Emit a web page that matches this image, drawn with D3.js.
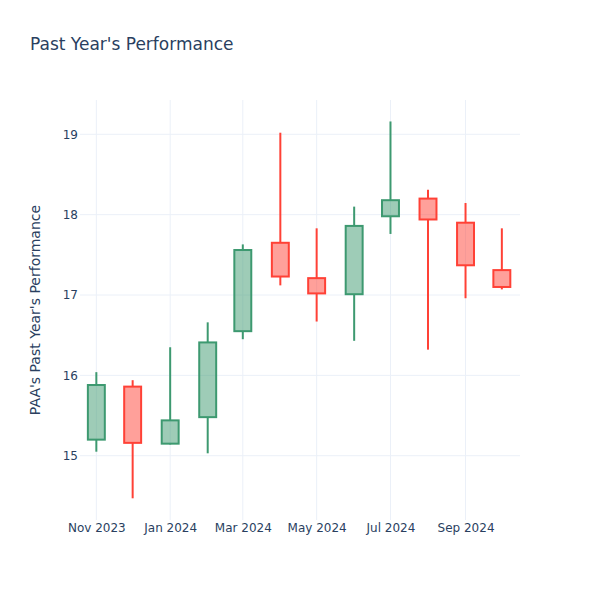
<!DOCTYPE html>
<html><head><meta charset="utf-8">
<script src="https://cdn.jsdelivr.net/npm/d3@7"></script>
<style>body{margin:0;background:#fff;} text{font-family:"DejaVu Sans",Verdana,Arial,sans-serif;}</style>
</head><body><svg id="c" width="600" height="600"></svg>
<script>
const dates = ["2023-11-01","2023-12-01","2024-01-01","2024-02-01","2024-03-01","2024-04-01","2024-05-01","2024-06-01","2024-07-01","2024-08-01","2024-09-01","2024-10-01"];
const opens  = [15.20,15.86,15.15,15.48,16.55,17.65,17.21,17.01,17.98,18.20,17.90,17.31];
const highs  = [16.04,15.94,16.35,16.66,17.63,19.02,17.83,18.10,19.16,18.31,18.145,17.83];
const lows   = [15.05,14.47,15.14,15.03,16.45,17.12,16.67,16.43,17.76,16.32,16.96,17.07];
const closes = [15.88,15.16,15.44,16.41,17.56,17.23,17.02,17.86,18.18,17.94,17.37,17.10];
const yTicks = [15,16,17,18,19];
const xTicks = ["2023-11-01","2024-01-01","2024-03-01","2024-05-01","2024-07-01","2024-09-01"];

const parse = d3.utcParse("%Y-%m-%d");
const data = dates.map((d,i)=>({date:parse(d),o:opens[i],h:highs[i],l:lows[i],c:closes[i]}));
const svg = d3.select("#c");
const m = {l:80,r:80,t:100,b:80}, W=600, H=600;
const day = 864e5;
const x = d3.scaleUtc().domain([new Date(parse(dates[0]).getTime()-13.5*day), new Date(parse(dates[dates.length-1]).getTime()+15*day)]).range([m.l, W-m.r]);
const y = d3.scaleLinear().domain([14.2,19.427]).range([H-m.b, m.t]);
const txt = "#2a3f5f", grid = "#EBF0F8";

// grid
svg.append("g").selectAll("line").data(yTicks).join("line")
  .attr("x1",m.l).attr("x2",W-m.r).attr("y1",d=>y(d)).attr("y2",d=>y(d)).attr("stroke",grid).attr("stroke-width",1);
svg.append("g").selectAll("line").data(xTicks).join("line")
  .attr("y1",m.t).attr("y2",H-m.b).attr("x1",d=>x(parse(d))).attr("x2",d=>x(parse(d))).attr("stroke",grid).attr("stroke-width",1);

// axes
const yAxis = d3.axisLeft(y).tickValues(yTicks).tickFormat(d3.format("d")).tickSize(0).tickPadding(2);
const gy = svg.append("g").attr("transform",`translate(${m.l},0)`).call(yAxis);
gy.select(".domain").remove();
gy.selectAll("text").attr("fill",txt).style("font-size","12px");
const fmt = d3.utcFormat("%b %Y");
const xAxis = d3.axisBottom(x).tickValues(xTicks.map(parse)).tickFormat(fmt).tickSize(0).tickPadding(3);
const gx = svg.append("g").attr("transform",`translate(0,${H-m.b})`).call(xAxis);
gx.select(".domain").remove();
gx.selectAll("text").attr("fill",txt).style("font-size","12px");

// candles
const inc = {line:"#3D9970", fill:"rgba(61,153,112,0.5)"};
const dec = {line:"#FF4136", fill:"rgba(255,65,54,0.5)"};
const halfW = (x(new Date(parse(dates[0]).getTime()+7*day)) - x(parse(dates[0])));
const g = svg.append("g");
data.forEach(d=>{
  const col = d.c>=d.o?inc:dec;
  const cx = x(d.date);
  const top = Math.max(d.o,d.c), bot = Math.min(d.o,d.c);
  g.append("line").attr("x1",cx).attr("x2",cx).attr("y1",y(d.h)).attr("y2",y(top)).attr("stroke",col.line).attr("stroke-width",2);
  g.append("line").attr("x1",cx).attr("x2",cx).attr("y1",y(bot)).attr("y2",y(d.l)).attr("stroke",col.line).attr("stroke-width",2);
  g.append("rect").attr("x",cx-halfW).attr("width",2*halfW).attr("y",y(top)).attr("height",y(bot)-y(top))
    .attr("fill",col.fill).attr("stroke",col.line).attr("stroke-width",2);
});

// titles
svg.append("text").attr("x",30).attr("y",50).text("Past Year's Performance").attr("fill",txt).style("font-size","17px");
svg.append("text").attr("transform",`translate(40,${(m.t+H-m.b)/2}) rotate(-90)`).attr("text-anchor","middle")
  .text("PAA's Past Year's Performance").attr("fill",txt).style("font-size","14px");
</script></body></html>
